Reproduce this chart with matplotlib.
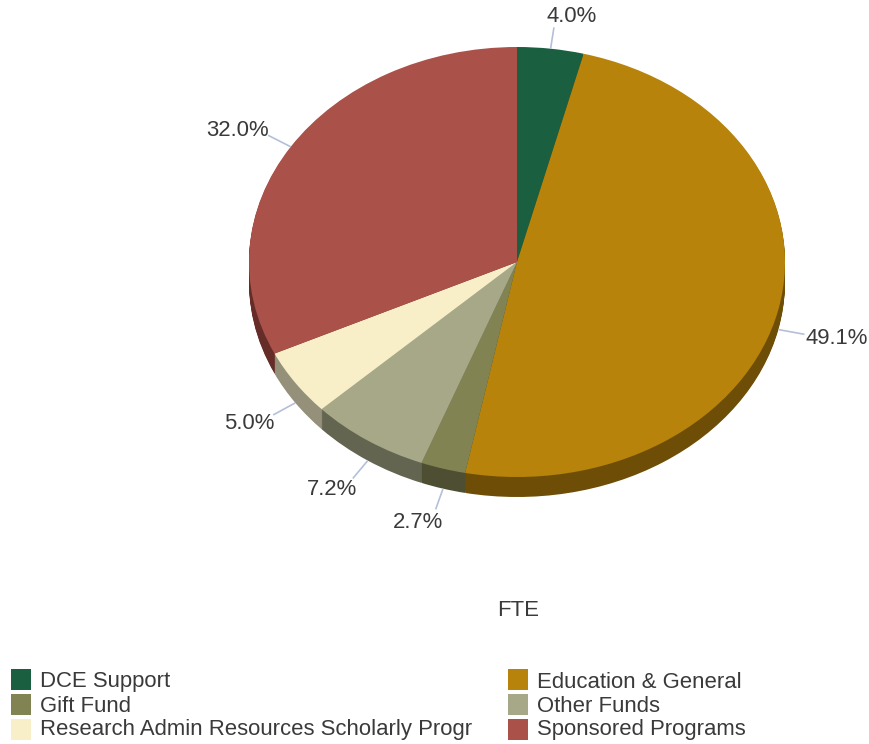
import numpy as np
import matplotlib
matplotlib.use("Agg")
import matplotlib.pyplot as plt
from matplotlib.patches import Rectangle

plt.rcParams['font.family'] = ['Liberation Sans', 'DejaVu Sans']

categories = ["DCE Support", "Education & General", "Gift Fund", "Other Funds",
              "Research Admin Resources Scholarly Progr", "Sponsored Programs"]
values = [4.0, 49.1, 2.7, 7.2, 5.0, 32.0]
colors = ["#1A5F40", "#B8830A", "#828353", "#A6A888", "#F8EFC8", "#AA524A"]
side_colors = ["#113B28", "#6E4E06", "#4E4F32", "#646551", "#95907A", "#662C28"]
title = "FTE"

W, H = 870, 744
cx, cy, rx, ry, depth = 517, 262, 268, 215, 20
text_color = "#3A3A3A"
fs = 15.9

fig = plt.figure(figsize=(W / 100, H / 100), dpi=100)

# pie axes, stretched so the circle turns into the tilted ellipse
pie_ax = fig.add_axes([(cx - rx) / W, 1 - (cy + ry + depth) / H, 2 * rx / W, (2 * ry + depth) / H])
for d in range(depth, 0, -1):
    pie_ax.pie(values, colors=side_colors, startangle=90, counterclock=False,
               center=(0, -d / ry), radius=1, wedgeprops=dict(linewidth=0))
pie_ax.pie(values, colors=colors, startangle=90, counterclock=False,
           wedgeprops=dict(linewidth=0))
pie_ax.set_aspect("auto")
pie_ax.set_xlim(-1, 1)
pie_ax.set_ylim(-1 - depth / ry, 1)
pie_ax.axis("off")

# overlay in pixel coordinates for labels and legend
ax = fig.add_axes([0, 0, 1, 1], facecolor="none")
ax.set_xlim(0, W)
ax.set_ylim(H, 0)
ax.axis("off")

cum = 0
for v in values:
    mid = np.radians((cum + v / 2) * 3.6)
    cum += v
    s, c = np.sin(mid), np.cos(mid)
    extra = depth if c < 0 else 0
    x0, y0 = cx + rx * s, cy - ry * c + extra
    x1, y1 = cx + rx * 1.1 * s, cy - ry * 1.1 * c + extra
    ax.plot([x0, x1], [y0, y1], color="#B4C0D8", lw=1.2, solid_capstyle="butt")
    shift = 9 * abs(c) ** 4
    if s > 0:
        ax.text(x1 + 1 - shift, y1 - 12 * c + 1.5, "%.1f%%" % v, ha="left", va="center",
                fontsize=fs, color=text_color)
    else:
        ax.text(x1 + shift, y1 - 12 * c + 1.5, "%.1f%%" % v, ha="right", va="center",
                fontsize=fs, color=text_color)

ax.text(518, 611, title, ha="center", va="center", fontsize=fs, color=text_color)

# legend, two columns filled row by row
for i, (name, col) in enumerate(zip(categories, colors)):
    row = i // 2
    x = 11 if i % 2 == 0 else 508
    ax.add_patch(Rectangle((x, 669 + row * 25), 20, 21, facecolor=col, edgecolor="none"))
    ax.text(x + 29, 682 + row * 24, name, ha="left", va="center", fontsize=fs, color=text_color)

fig.savefig("out.png", dpi=100, facecolor="white")
